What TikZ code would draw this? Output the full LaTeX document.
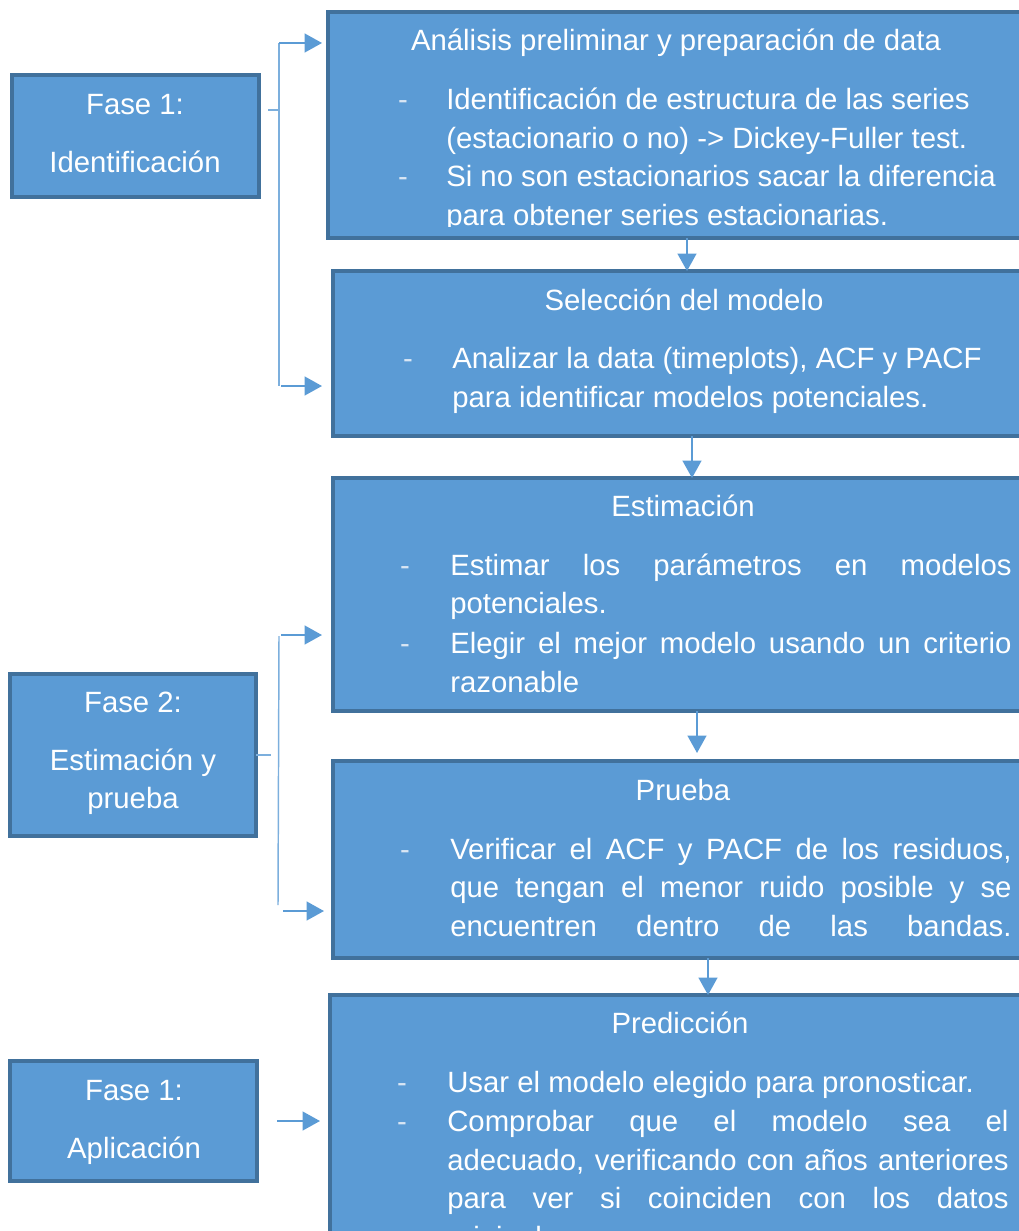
\documentclass[tikz,border=0pt]{standalone}
\usepackage{fontspec}
\setmainfont{Liberation Sans}
\usepackage{xcolor}
\usetikzlibrary{arrows.meta,calc,fit}
\definecolor{azul}{HTML}{5B9BD5}
\definecolor{borde}{HTML}{41719C}
\definecolor{guion}{HTML}{D9E6F4}
\newcommand{\just}[1]{\makebox[421pt][s]{#1}}

\begin{document}
\begin{tikzpicture}[x=0.75pt,y=-0.75pt,
	caja/.style={draw=borde,line width=2.6pt,fill=azul,inner sep=0pt,outer sep=0pt},
	texto/.style={text=white,inner sep=0pt,font=\fontsize{22}{29}\selectfont},
	guion/.style={text=guion,inner sep=0pt,font=\fontsize{22}{29}\selectfont},
	flecha/.style={azul,line width=1.6pt,-{Triangle[length=13pt,width=14pt]}},
	linea/.style={azul!80!white,line width=1.1pt}]
	\useasboundingbox (0,0) rectangle (1019,1231);
	\clip (0,0) rectangle (1019,1231);
	
	% cajas de las fases
	\node[caja,fit={(12,75) (259,197)}] (fase1) {};
	\node[caja,fit={(10,674) (256,836)}] (fase2) {};
	\node[caja,fit={(10,1061) (257,1181)}] (aplicacion) {};
	% cajas de los pasos
	\node[caja,fit={(328,12) (1035,238)}] (analisis) {};
	\node[caja,fit={(333,271) (1035,436)}] (seleccion) {};
	\node[caja,fit={(333,478) (1035,711)}] (estimacion) {};
	\node[caja,fit={(333,761) (1035,958)}] (prueba) {};
	\node[caja,fit={(330,995) (1035,1245)}] (prediccion) {};
	
	\node[texto,anchor=base] (f1a) at (135,114) {Fase 1:};
	\node[texto,anchor=base] (f1b) at (135,172) {Identificación};
	\node[texto,anchor=base] (f2a) at (133,712) {Fase 2:};
	\node[texto,anchor=base] (f2b) at (133,770) {Estimación y};
	\node[texto,anchor=base] (f2c) at (133,808) {prueba};
	\node[texto,anchor=base] (f3a) at (134,1100) {Fase 1:};
	\node[texto,anchor=base] (f3b) at (134,1158) {Aplicación};
	
	\node[texto,anchor=base] (ta) at (676,51) {Análisis preliminar y preparación de data};
	\node[guion,anchor=base] (ga1) at (403,109) {-};
	\node[guion,anchor=base] (ga2) at (403,186) {-};
	\begin{scope}
		\clip (0,0) rectangle (1019,226);
		\node[texto,anchor=base west] (la1) at (446,109) {Identificación de estructura de las series};
		\node[texto,anchor=base west] (la2) at (446,148) {(estacionario o no) -> Dickey-Fuller test.};
		\node[texto,anchor=base west] (la3) at (446,186) {Si no son estacionarios sacar la diferencia};
		\node[texto,anchor=base west] (la4) at (446,225) {para obtener series estacionarias.};
	\end{scope}
	
	\node[texto,anchor=base] (ts) at (684,310) {Selección del modelo};
	\node[guion,anchor=base] (gs1) at (408,368) {-};
	\node[texto,anchor=base west] (ls1) at (452,368) {Analizar la data (timeplots), ACF y PACF};
	\node[texto,anchor=base west] (ls2) at (452,407) {para identificar modelos potenciales.};
	
	\node[texto,anchor=base] (te) at (683,516) {Estimación};
	\node[guion,anchor=base] (ge1) at (405,575) {-};
	\node[guion,anchor=base] (ge2) at (405,653) {-};
	\node[texto,anchor=base west] (le1) at (450,575) {\just{Estimar los parámetros en modelos}};
	\node[texto,anchor=base west] (le2) at (450,613) {potenciales.};
	\node[texto,anchor=base west] (le3) at (450,653) {\just{Elegir el mejor modelo usando un criterio}};
	\node[texto,anchor=base west] (le4) at (450,692) {razonable};
	
	\node[texto,anchor=base] (tp) at (683,800) {Prueba};
	\node[guion,anchor=base] (gp1) at (405,859) {-};
	\node[texto,anchor=base west] (lp1) at (450,859) {\just{Verificar el ACF y PACF de los residuos,}};
	\node[texto,anchor=base west] (lp2) at (450,897) {\just{que tengan el menor ruido posible y se}};
	\node[texto,anchor=base west] (lp3) at (450,936) {\just{encuentren dentro de las bandas.}};
	
	\node[texto,anchor=base] (tr) at (680,1033) {Predicción};
	\node[guion,anchor=base] (gr1) at (402,1092) {-};
	\node[guion,anchor=base] (gr2) at (402,1131) {-};
	\node[texto,anchor=base west] (lr1) at (447,1092) {Usar el modelo elegido para pronosticar.};
	\node[texto,anchor=base west] (lr2) at (447,1131) {\just{Comprobar que el modelo sea el}};
	\node[texto,anchor=base west] (lr3) at (447,1170) {\just{adecuado, verificando con años anteriores}};
	\node[texto,anchor=base west] (lr4) at (447,1208) {\just{para ver si coinciden con los datos}};
	\node[texto,anchor=base west] (lr5) at (447,1247) {originales.};
	
	% llaves y flechas
	\coordinate (e1a) at (279,43);
	\coordinate (e1b) at (279,386);
	\draw[linea] ($(fase1.north east)+(9,35)$) -- ($(e1a)+(0,67)$);
	\draw[linea] (e1a) -- (e1b);
	\draw[flecha] (e1a) -- ($(analisis.north west)+(-6,31)$);
	\draw[flecha] ($(e1b)+(2,0)$) -- ($(seleccion.north west)+(-11,115)$);
	
	\coordinate (e2a) at (279,636);
	\coordinate (e2b) at (278,905);
	\draw[linea] (fase2.east) -- ++(15,0);
	\draw[linea] (e2a) -- (e2b);
	\draw[flecha] ($(e2a)+(2,-1)$) -- ($(estimacion.north west)+(-11,157)$);
	\draw[flecha] ($(e2b)+(5,6)$) -- ($(prueba.north west)+(-9,150)$);
	
	\draw[flecha] ($(aplicacion.east)+(20,0)$) -- ($(prediccion.north west)+(-10,126)$);
	
	\draw[flecha] ($(analisis.south west)+(359,0)$) -- ($(seleccion.north west)+(354,0)$);
	\draw[flecha] ($(seleccion.south west)+(359,0)$) -- ($(estimacion.north west)+(359,0)$);
	\draw[flecha] ($(estimacion.south west)+(364,0)$) -- ($(prueba.north west)+(364,-8)$);
	\draw[flecha] ($(prueba.south west)+(375,0)$) -- ($(prediccion.north west)+(378,0)$);
\end{tikzpicture}
\end{document}
